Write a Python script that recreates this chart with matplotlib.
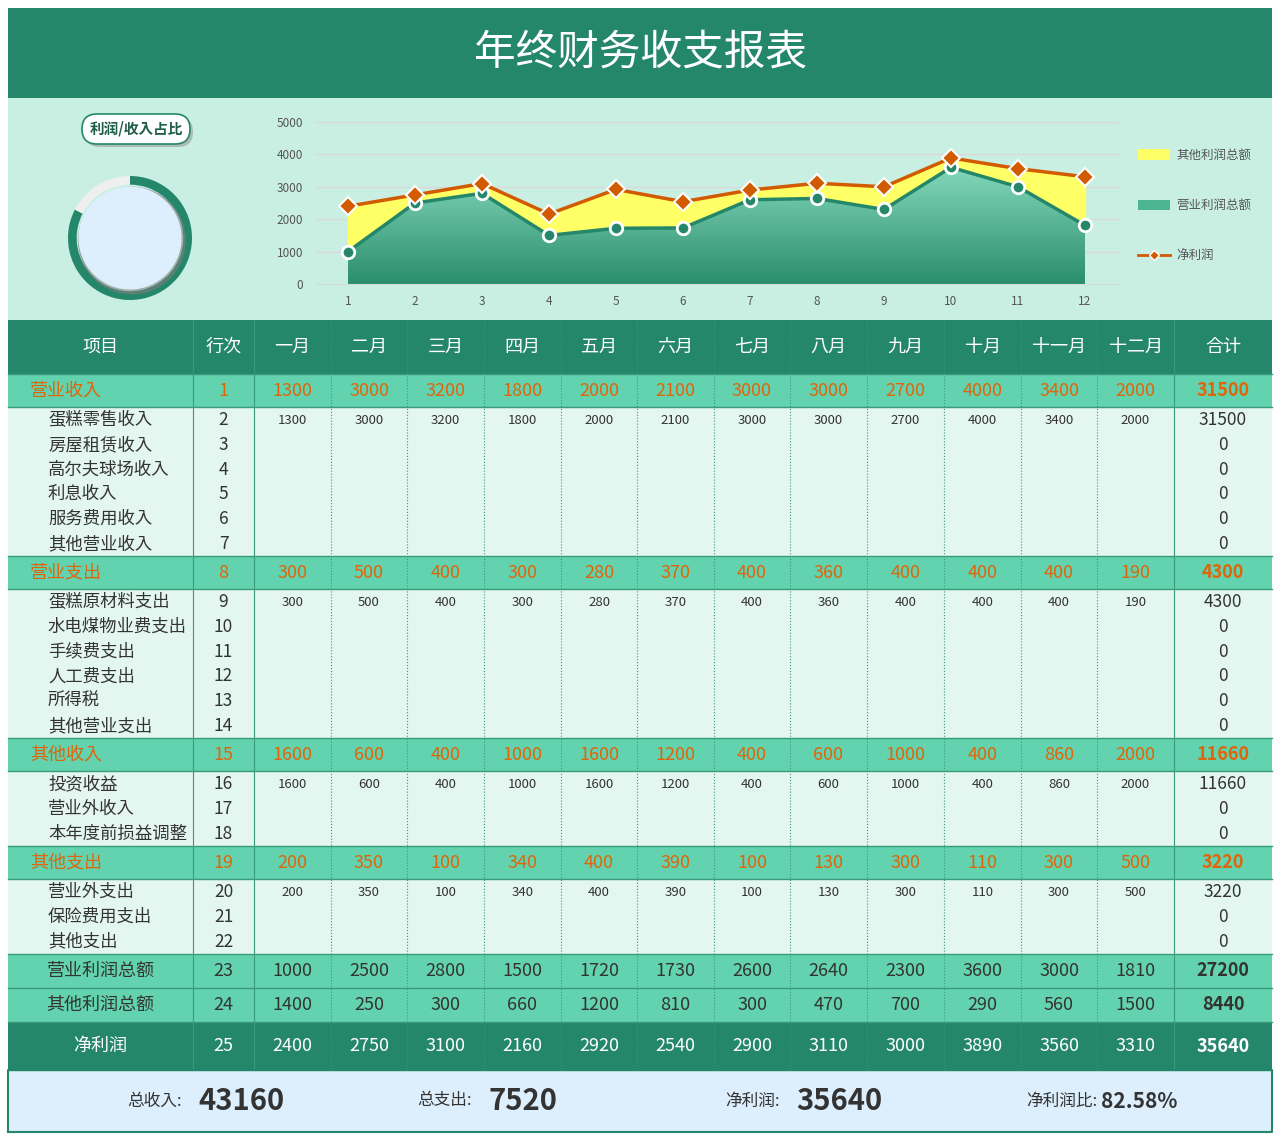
import matplotlib
matplotlib.use("Agg")
import matplotlib.pyplot as plt
from matplotlib.patches import Rectangle, FancyBboxPatch, Circle
from matplotlib import font_manager as fm
import numpy as np, glob, os

cjk = None
for pat in ["/usr/share/fonts/**/*CJK*", "/usr/local/share/fonts/**/*CJK*", os.path.expanduser("~/.fonts/**/*CJK*")]:
    for f in sorted(glob.glob(pat, recursive=True)):
        try:
            fm.fontManager.addfont(f)
        except Exception:
            pass
names = [f.name for f in fm.fontManager.ttflist if "CJK" in f.name]
fam = "Noto Sans CJK SC" if "Noto Sans CJK SC" in names else (names[0] if names else "DejaVu Sans")
plt.rcParams["font.family"] = [fam, "DejaVu Sans"]

months = ["一月","二月","三月","四月","五月","六月","七月","八月","九月","十月","十一月","十二月"]
headers = ["项目","行次"] + months + ["合计"]
op_income = [1300,3000,3200,1800,2000,2100,3000,3000,2700,4000,3400,2000]
op_expense = [300,500,400,300,280,370,400,360,400,400,400,190]
other_income = [1600,600,400,1000,1600,1200,400,600,1000,400,860,2000]
other_expense = [200,350,100,340,400,390,100,130,300,110,300,500]
op_profit = [1000,2500,2800,1500,1720,1730,2600,2640,2300,3600,3000,1810]
other_profit = [1400,250,300,660,1200,810,300,470,700,290,560,1500]
net_profit = [2400,2750,3100,2160,2920,2540,2900,3110,3000,3890,3560,3310]
income_items = ["蛋糕零售收入","房屋租赁收入","高尔夫球场收入","利息收入","服务费用收入","其他营业收入"]
expense_items = ["蛋糕原材料支出","水电煤物业费支出","手续费支出","人工费支出","所得税","其他营业支出"]
oincome_items = ["投资收益","营业外收入","本年度前损益调整"]
oexpense_items = ["营业外支出","保险费用支出","其他支出"]
summary_labels = ["总收入:","总支出:","净利润:","净利润比:"]
summary_values = ["43160","7520","35640","82.58%"]
ratio = 0.8258

DARK = "#25876A"; MID = "#62D3AE"; LIGHT = "#E3F6EF"; PANEL = "#C9EFE3"; ORANGE = "#E0650A"; TXT = "#333333"

W, H = 1280, 1139
fig = plt.figure(figsize=(12.8, 11.39), dpi=100)
ax = fig.add_axes([0, 0, 1, 1])
ax.set_xlim(0, W); ax.set_ylim(H, 0); ax.axis("off")

def rect(x0, y0, x1, y1, c, **kw):
    ax.add_patch(Rectangle((x0, y0), x1 - x0, y1 - y0, facecolor=c, edgecolor="none", **kw))

def t(x, y, s, **kw):
    kw.setdefault("ha", "center"); kw.setdefault("va", "center")
    ax.text(x, y, s, **kw)

rect(8, 8, 1272, 98, DARK)
t(640, 53, "年终财务收支报表", color="white", fontsize=30)
rect(8, 98, 1272, 320, PANEL)

cols = [8, 193, 254, 331, 407, 484, 561, 637, 714, 790, 867, 944, 1021, 1097, 1174, 1272]
cx = [(cols[i] + cols[i+1]) / 2 for i in range(15)]

rect(8, 320, 1272, 374, DARK)
for i, h in enumerate(headers):
    t(cx[i], 347, h, color="white", fontsize=13)

def group(y, label, num, vals, items, start):
    rect(8, y, 1272, y + 33, MID)
    t(30, y + 17, label, ha="left", color=ORANGE, fontsize=13)
    t(cx[1], y + 17, str(num), color=ORANGE, fontsize=13)
    for j, v in enumerate(vals):
        t(cx[j+2], y + 17, str(v), color=ORANGE, fontsize=13)
    t(cx[14], y + 17, str(sum(vals)), color=ORANGE, fontsize=13, weight="bold")
    y2 = y + 33
    n = len(items)
    rect(8, y2, 1272, y2 + 24.8 * n + 2, LIGHT)
    for k, it in enumerate(items):
        yy = y2 + 13 + 24.8 * k
        t(48, yy, it, ha="left", color=TXT, fontsize=12.5)
        t(cx[1], yy, str(start + k), color=TXT, fontsize=12.5)
        if k == 0:
            for j, v in enumerate(vals):
                t(cx[j+2], yy, str(v), color=TXT, fontsize=9.5)
            t(cx[14], yy, str(sum(vals)), color=TXT, fontsize=12.5)
        else:
            t(cx[14], yy, "0", color=TXT, fontsize=12.5)

group(374, "营业收入", 1, op_income, income_items, 2)
group(556, "营业支出", 8, op_expense, expense_items, 9)
group(738, "其他收入", 15, other_income, oincome_items, 16)
group(846, "其他支出", 19, other_expense, oexpense_items, 20)

def total_row(y0, y1, label, num, vals, bg, fc):
    rect(8, y0, 1272, y1, bg)
    ym = (y0 + y1) / 2
    t(cx[0], ym, label, color=fc, fontsize=13)
    t(cx[1], ym, str(num), color=fc, fontsize=13)
    for j, v in enumerate(vals):
        t(cx[j+2], ym, str(v), color=fc, fontsize=13)
    t(cx[14], ym, str(sum(vals)), color=fc, fontsize=13, weight="bold")

total_row(954, 988, "营业利润总额", 23, op_profit, MID, TXT)
total_row(988, 1022, "其他利润总额", 24, other_profit, MID, TXT)
total_row(1022, 1070, "净利润", 25, net_profit, DARK, "white")

for x in cols[1:-1]:
    ls = "-" if x in (193, 254, 1174) else ":"
    ax.plot([x, x], [320, 1070], color="#3A9A7C", lw=0.8, ls=ls)
for yl in [374, 407, 556, 589, 738, 771, 846, 879, 954, 988, 1022, 1070]:
    ax.plot([8, 1272], [yl, yl], color="#3A9A7C", lw=1)

rect(8, 1070, 1272, 1132, "#DDEEFC")
ax.plot([8, 1272, 1272, 8, 8], [1132, 1132, 1070, 1070, 1132], color=DARK, lw=1.5)
fx = [(182, 198), (472, 488), (780, 796), (1097, 1101)]
for k in range(4):
    t(fx[k][0], 1101, summary_labels[k], ha="right", color=TXT, fontsize=12)
    t(fx[k][1], 1101, summary_values[k], ha="left", color=TXT, fontsize=21 if k < 3 else 15, weight="bold")

ax.add_patch(FancyBboxPatch((85, 117), 108, 30, boxstyle="round,pad=0,rounding_size=15",
                            facecolor="#8a8a8a", edgecolor="none", alpha=0.5))
ax.add_patch(FancyBboxPatch((82, 114), 108, 30, boxstyle="round,pad=0,rounding_size=15",
                            facecolor="white", edgecolor=DARK, lw=1.2))
t(136, 129, "利润/收入占比", color="#1F5E4A", fontsize=10.5, weight="bold")

# donut
dax = fig.add_axes([68/W, 1 - 300/H, 124/W, 124/H])
dax.pie([ratio, 1 - ratio], colors=[DARK, "#EFEFEF"], startangle=90, counterclock=False,
        radius=1, wedgeprops=dict(width=0.14))
dax.add_patch(Circle((0.03, -0.04), 0.86, color="#7d7d7d", alpha=0.55))
dax.add_patch(Circle((0, 0), 0.82, color="#DDEEFC"))
dax.set_xlim(-1.0, 1.0); dax.set_ylim(-1.0, 1.0); dax.set_aspect("equal"); dax.axis("off")

# chart
x = np.arange(1, 13)
cax = fig.add_axes([314.5/W, 1 - 284/H, 804/W, 162/H])
cax.set_facecolor("none")
cax.set_xlim(0.5, 12.5); cax.set_ylim(0, 5000)
for v in range(1000, 6000, 1000):
    cax.axhline(v, color="#d9d9d9", lw=1, zorder=0)
cax.fill_between(x, op_profit, net_profit, color="#FFFF66", zorder=1)
poly = cax.fill_between(x, 0, op_profit, color="none", zorder=1)
grad = np.linspace(0, 1, 256).reshape(-1, 1)
from matplotlib.colors import LinearSegmentedColormap
cm = LinearSegmentedColormap.from_list("g", ["#2A8E6C", "#8EE0C4"])
im = cax.imshow(grad, cmap=cm, extent=[1, 12, 0, 4000], origin="lower", aspect="auto", zorder=1)
im.set_clip_path(poly.get_paths()[0], transform=cax.transData)
cax.plot(x, op_profit, color=DARK, lw=2.5, marker="o", ms=9, mfc=DARK, mec="white", mew=2, zorder=3)
cax.plot(x, net_profit, color="#D25A00", lw=2.5, marker="D", ms=9, mfc="#D25A00", mec="white", mew=1.5, zorder=4)
cax.set_xlim(0.5, 12.5); cax.set_ylim(0, 5000)
cax.set_yticks(range(0, 6000, 1000))
cax.set_xticks(x)
cax.tick_params(labelsize=8.5, colors="#555555", length=0, pad=8)
for s in ["top", "right", "left"]:
    cax.spines[s].set_visible(False)
cax.spines["bottom"].set_color("#d9d9d9")

rect(1138, 149, 1170, 160, "#FFFF66")
t(1176, 155, "其他利润总额", ha="left", color="#555555", fontsize=9)
rect(1138, 200, 1170, 210, "#4DB592")
t(1176, 205, "营业利润总额", ha="left", color="#555555", fontsize=9)
ax.plot([1138, 1170], [255, 255], color="#D25A00", lw=2)
ax.plot([1154], [255], marker="D", ms=5, color="#D25A00", mec="white")
t(1176, 255, "净利润", ha="left", color="#555555", fontsize=9)

fig.savefig("out.png", dpi=100)
